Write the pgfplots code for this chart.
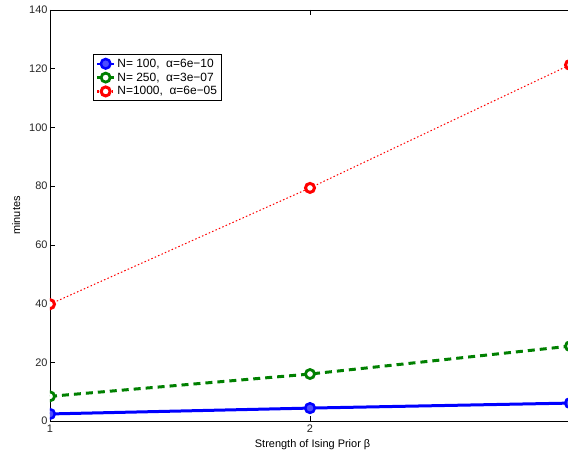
\documentclass[border=0pt]{standalone}
\usepackage{fontspec}
\setmainfont{Liberation Sans}
\usepackage{pgfplots}
\pgfplotsset{compat=1.18}
\definecolor{mblue}{rgb}{0,0,1}
\definecolor{mgreen}{rgb}{0,0.5,0}
\definecolor{mred}{rgb}{1,0,0}
\begin{document}
\begin{tikzpicture}[x=1bp,y=1bp]
\begin{axis}[
  scale only axis,
  width=525.2bp, height=411bp,
  xmin=1, xmax=3.02, ymin=0, ymax=140,
  xtick={1,2,3}, xticklabels={1,2,{}}, ytick={0,20,...,140},
  tick align=inside,
  major tick length=5bp,
  tick style={black, line width=0.5bp},
  axis line style={line width=0.8bp},
  /pgf/number format/assume math mode=true,
  ticklabel style={font=\fontsize{11}{12}\selectfont, text=black!85},
  xticklabel style={yshift=0bp},
  yticklabel style={xshift=1bp},
  xlabel={Strength of Ising Prior β},
  ylabel={minutes},
  label style={font=\fontsize{11}{12}\selectfont},
  xlabel style={yshift=-1bp},
  ylabel style={yshift=2bp},
  clip marker paths=true,
  legend style={at={(axis description cs:0.0819,0.893)}, anchor=north west,
    font=\fontsize{12}{14}\selectfont, draw=black, line width=0.8bp,
    inner sep=2.5bp, row sep=0bp},
  legend cell align=left,
  legend image post style={line width=2.5bp},
]
\addplot[mblue, line width=3bp, mark=*, mark size=4.8bp,
  mark options={solid, fill=mblue!70!white, draw=mblue, line width=2.5bp}]
  coordinates {(1,2.4) (2,4.4) (3,6.1)};
\addlegendentry{N= 100,\ \ α=6e−10}
\addplot[mgreen, line width=3bp, dash pattern=on 7bp off 5bp, mark=*, mark size=4.5bp,
  mark options={solid, fill=white, draw=mgreen, line width=2.8bp}]
  coordinates {(1,8.4) (2,16.0) (3,25.5)};
\addlegendentry{N= 250,\ \ α=3e−07}
\addplot[mred, line width=1bp, dash pattern=on 1.5bp off 2.2bp, mark=*, mark size=4.5bp,
  mark options={solid, fill=white, draw=mred, line width=3bp}]
  coordinates {(1,39.8) (2,79.4) (3,121.3)};
\addlegendentry{N=1000,\ \ α=6e−05}
\coordinate (O) at (rel axis cs:0,0);
\end{axis}
\pgfresetboundingbox
\useasboundingbox ([xshift=-50bp,yshift=-36bp]O) rectangle ([xshift=518bp,yshift=421bp]O);
\end{tikzpicture}
\end{document}
